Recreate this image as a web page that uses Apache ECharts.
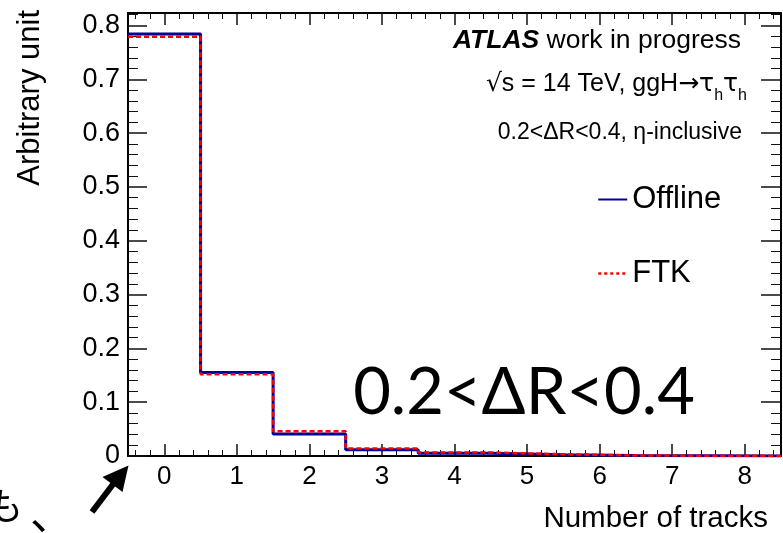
<!DOCTYPE html>
<html>
<head>
<meta charset="utf-8">
<script src="https://cdn.jsdelivr.net/npm/echarts@6/dist/echarts.min.js"></script>
<style>
  html, body { margin: 0; padding: 0; background: #fff; }
  #chart { width: 783px; height: 533px; }
</style>
</head>
<body>
<div id="chart"></div>
<script>
// Track-multiplicity distributions (normalised), one entry per bin
const bins = [0, 1, 2, 3, 4, 5, 6, 7, 8];
const offline = [0.784, 0.155, 0.041, 0.0115, 0.005, 0.0022, 0.0008, 0.0004, 0.0002];
const ftk = [0.779, 0.152, 0.046, 0.014, 0.0065, 0.0033, 0.001, 0.0005, 0.0002];

// Axis tick labels
const xTickLabels = ['0', '1', '2', '3', '4', '5', '6', '7', '8'];
const yTickValues = [0, 0.1, 0.2, 0.3, 0.4, 0.5, 0.6, 0.7, 0.8];
const yTickLabels = ['0', '0.1', '0.2', '0.3', '0.4', '0.5', '0.6', '0.7', '0.8'];

const xMin = -0.5, xMax = 8.5;
const yMax = 0.8232;
const FONT = '"Liberation Sans", Arial, Helvetica, sans-serif';
const SYM = '"DejaVu Sans", sans-serif';

// histogram outline: each bin spans [b-0.5, b+0.5]
function stepPoints(values) {
  const pts = bins.map((b, i) => [b - 0.5, values[i]]);
  pts.push([bins[bins.length - 1] + 0.5, values[values.length - 1]]);
  return pts;
}

// minor tick positions (5 subdivisions per major step)
const xMinor = [];
for (let k = -2; k <= 42; k++) { if (k % 5 !== 0) xMinor.push(Math.round(k * 20) / 100); }
const yMinor = [];
for (let k = 1; k <= 41; k++) { if (k % 5 !== 0) yMinor.push(Math.round(k * 2) / 100); }

function xAxisDef(position, ticks, len, withLine, withLabels) {
  return {
    type: 'value', min: xMin, max: xMax, position: position,
    axisLine: { show: withLine, onZero: false, lineStyle: { color: '#000', width: 2 } },
    axisTick: { show: true, inside: true, length: len, customValues: ticks,
                lineStyle: { color: '#111', width: len > 8 ? 1.5 : 1 } },
    axisLabel: withLabels ? {
      show: true, customValues: bins, margin: 8,
      formatter: v => xTickLabels[bins.indexOf(Math.round(v))],
      fontSize: 26, fontFamily: FONT, color: '#000'
    } : { show: false },
    splitLine: { show: false }
  };
}
function yAxisDef(position, ticks, len, withLine, withLabels) {
  return {
    type: 'value', min: 0, max: yMax, position: position,
    axisLine: { show: withLine, onZero: false, lineStyle: { color: '#000', width: 2 } },
    axisTick: { show: true, inside: true, length: len, customValues: ticks,
                lineStyle: { color: '#111', width: len > 12 ? 1.5 : 1 } },
    axisLabel: withLabels ? {
      show: true, customValues: yTickValues, margin: 8,
      formatter: v => yTickLabels[Math.round(v * 10)],
      fontSize: 27, fontFamily: FONT, color: '#000'
    } : { show: false },
    splitLine: { show: false }
  };
}

const chart = echarts.init(document.getElementById('chart'), null, { renderer: 'canvas' });

chart.setOption({
  animation: false,
  backgroundColor: '#fff',
  grid: { left: 128, right: 2, top: 13, bottom: 77, containLabel: false },
  xAxis: [
    xAxisDef('bottom', bins, 12, true, true),
    xAxisDef('bottom', xMinor, 6, false, false),
    xAxisDef('top', bins, 12, true, false),
    xAxisDef('top', xMinor, 6, false, false)
  ],
  yAxis: [
    yAxisDef('left', yTickValues, 19, true, true),
    yAxisDef('left', yMinor, 10, false, false),
    yAxisDef('right', yTickValues, 20, true, false),
    yAxisDef('right', yMinor, 10, false, false)
  ],
  legend: {
    orient: 'vertical', left: 597, top: 184, padding: 0,
    itemWidth: 29, itemHeight: 14, itemGap: 43,
    itemStyle: { opacity: 0 },
    textStyle: { fontSize: 31, lineHeight: 31, fontFamily: FONT, color: '#000' },
    data: [
      { name: 'Offline' },
      { name: 'FTK', lineStyle: { type: [3, 3], width: 2.5, color: '#ff0000' } }
    ]
  },
  series: [
    {
      name: 'Offline', type: 'line', step: 'end', xAxisIndex: 0, yAxisIndex: 0,
      data: stepPoints(offline), symbol: 'none', showSymbol: false,
      lineStyle: { color: '#000099', width: 3 }, itemStyle: { color: '#000099' },
      z: 2
    },
    {
      name: 'FTK', type: 'line', step: 'end', xAxisIndex: 0, yAxisIndex: 0,
      data: stepPoints(ftk), symbol: 'none', showSymbol: false,
      lineStyle: { color: '#ff0000', width: 2.5, type: [5, 3] }, itemStyle: { color: '#ff0000' },
      z: 3
    }
  ],
  graphic: [
    // axis titles
    { type: 'text', x: 30, y: 10, rotation: Math.PI / 2,
      style: { text: 'Arbitrary unit', align: 'right', verticalAlign: 'middle',
               fontSize: 31, fontFamily: FONT, fill: '#000' } },
    { type: 'text', x: 768, y: 519,
      style: { text: 'Number of tracks', align: 'right', verticalAlign: 'middle',
               fontSize: 29.5, fontFamily: FONT, fill: '#000' } },
    // plot annotations
    { type: 'text', x: 741, y: 41,
      style: { text: '{b|ATLAS} work in progress', align: 'right', verticalAlign: 'middle',
               fontSize: 26.5, fontFamily: FONT, fill: '#000',
               rich: { b: { fontSize: 26.5, fontFamily: FONT, fontWeight: 'bold', fontStyle: 'italic', fill: '#000' } } } },
    { type: 'text', x: 747, y: 84,
      style: { text: '{g|\u221A}{n|s = 14 TeV, ggH}{g|\u2192\u03C4}{s|h}{g|\u03C4}{s|h}', align: 'right', verticalAlign: 'middle',
               fontSize: 25, fontFamily: FONT, fill: '#000',
               rich: {
                 n: { fontSize: 25, lineHeight: 25, verticalAlign: 'top', fontFamily: FONT, fill: '#000' },
                 g: { fontSize: 25, lineHeight: 25, verticalAlign: 'top', fontFamily: SYM, fill: '#000' },
                 s: { fontSize: 16, lineHeight: 16, padding: [16, 0, 0, 0], verticalAlign: 'top', fontFamily: FONT, fill: '#000' }
               } } },
    { type: 'text', x: 742, y: 133,
      style: { text: '0.2<\u0394R<0.4, \u03B7-inclusive', align: 'right', verticalAlign: 'middle',
               fontSize: 23, fontFamily: FONT, fill: '#000' } },
    // slide overlay: large range label
    { type: 'text', x: 524, y: 393,
      style: { text: '0.2<\u0394R<0.4', align: 'center', verticalAlign: 'middle',
               fontSize: 65, fontFamily: 'Lato, "Open Sans", sans-serif', fill: '#000' } },
    // slide overlay: arrow pointing at the origin
    { type: 'line', shape: { x1: 92, y1: 512, x2: 117, y2: 479 },
      style: { stroke: '#000', lineWidth: 6 } },
    { type: 'polygon', shape: { points: [[128.5, 465.5], [102.5, 477], [122.5, 492]] },
      style: { fill: '#000' } },
    // slide overlay: clipped Japanese text
    { type: 'text', x: -14, y: 506,
      style: { text: '\u3082', align: 'left', verticalAlign: 'middle',
               fontSize: 37, fontFamily: '"Noto Sans CJK JP", sans-serif', fill: '#000' } },
    { type: 'text', x: 30, y: 513,
      style: { text: '\u3001', align: 'left', verticalAlign: 'middle',
               fontSize: 44, fontFamily: '"Noto Sans CJK JP", sans-serif', fill: '#000' } }
  ]
});
</script>
</body>
</html>
